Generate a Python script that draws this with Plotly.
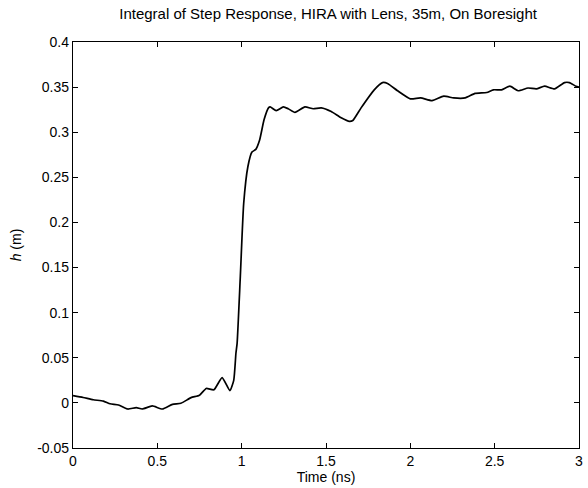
import plotly.graph_objects as go

# Integral of the step response h(t), sampled along the time axis
time_ns = [0.0, 0.06, 0.12, 0.18, 0.22, 0.27, 0.325, 0.375, 0.41, 0.47, 0.53, 0.59,
           0.64, 0.70, 0.75, 0.79, 0.835, 0.884, 0.93, 0.953, 0.966, 0.973, 0.992,
           1.012, 1.037, 1.061, 1.084, 1.106, 1.133, 1.159, 1.169, 1.205, 1.247,
           1.276, 1.316, 1.375, 1.424, 1.472, 1.531, 1.59, 1.639, 1.659, 1.708,
           1.786, 1.835, 1.865, 1.924, 2.0, 2.061, 2.129, 2.198, 2.257, 2.325,
           2.384, 2.453, 2.492, 2.541, 2.59, 2.639, 2.698, 2.747, 2.796, 2.855,
           2.914, 2.943, 2.982, 3.0]
h_m = [0.008, 0.006, 0.0035, 0.002, -0.001, -0.0023, -0.0068, -0.0053, -0.0068,
       -0.0034, -0.0068, -0.0016, -0.0004, 0.0058, 0.0085, 0.0160, 0.0145, 0.028,
       0.0136, 0.025, 0.055, 0.066, 0.140, 0.221, 0.262, 0.278, 0.281, 0.291,
       0.314, 0.327, 0.328, 0.324, 0.328, 0.326, 0.322, 0.328, 0.326, 0.327,
       0.323, 0.316, 0.312, 0.313, 0.327, 0.347, 0.355, 0.354, 0.346, 0.337,
       0.338, 0.335, 0.340, 0.338, 0.338, 0.343, 0.344, 0.347, 0.347, 0.351,
       0.346, 0.349, 0.348, 0.351, 0.348, 0.355, 0.355, 0.351, 0.350]

x_ticks = [0, 0.5, 1, 1.5, 2, 2.5, 3]
x_tick_text = ["0", "0.5", "1", "1.5", "2", "2.5", "3"]
y_ticks = [-0.05, 0, 0.05, 0.1, 0.15, 0.2, 0.25, 0.3, 0.35, 0.4]
y_tick_text = ["-0.05", "0", "0.05", "0.1", "0.15", "0.2", "0.25", "0.3", "0.35", "0.4"]

font_family = "Liberation Sans, Arial, Helvetica, sans-serif"

fig = go.Figure()
fig.add_trace(go.Scatter(
    x=time_ns, y=h_m, mode="lines",
    line=dict(color="black", width=1.7, shape="spline", smoothing=0.5),
    showlegend=False, hoverinfo="skip",
))

axis_common = dict(
    showline=True, linecolor="black", linewidth=1.3, mirror="ticks",
    ticks="inside", ticklen=5, tickcolor="black", tickwidth=1.2,
    showgrid=False, zeroline=False,
    tickfont=dict(family=font_family, size=14, color="black"),
)

fig.update_xaxes(
    range=[0, 3], tickvals=x_ticks, ticktext=x_tick_text,
    title=dict(text="Time (ns)", font=dict(family=font_family, size=14, color="black"),
               standoff=4),
    **axis_common,
)
fig.update_yaxes(
    range=[-0.05, 0.4], tickvals=y_ticks, ticktext=y_tick_text,
    title=dict(text="<i>h</i> (m)", font=dict(family=font_family, size=14, color="black"),
               standoff=12),
    **axis_common,
)

fig.update_layout(
    width=588, height=488,
    margin=dict(l=73, r=5, t=42, b=40),
    paper_bgcolor="white", plot_bgcolor="white",
    title=dict(text="Integral of Step Response, HIRA with Lens, 35m, On Boresight",
               font=dict(family=font_family, size=15, color="black"),
               x=0.558, xanchor="center", y=0.971, yanchor="middle"),
)

fig.write_html("out.html")
